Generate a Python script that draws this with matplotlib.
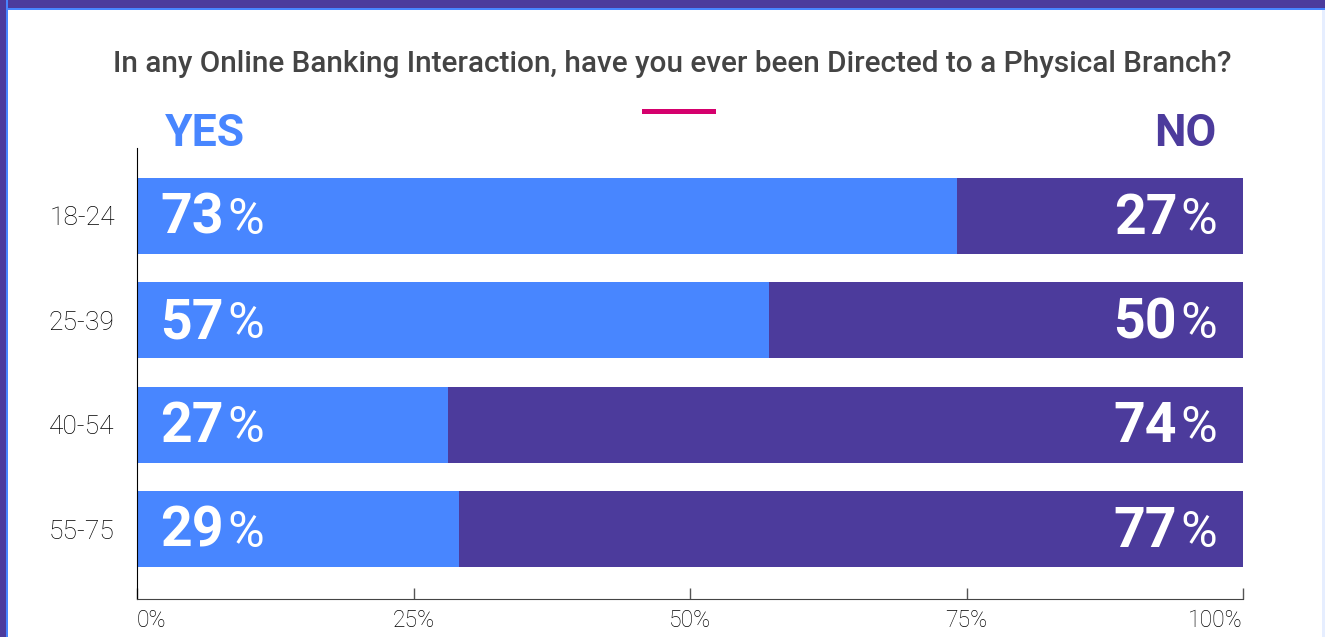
import matplotlib.pyplot as plt
from matplotlib.offsetbox import AnnotationBbox, HPacker, TextArea
from matplotlib.patches import Rectangle

# data
ages = ["18-24", "25-39", "40-54", "55-75"]
yes_labels = [73, 57, 27, 29]
no_labels = [27, 50, 74, 77]
yes_bar = [74.1, 57.1, 28.1, 29.1]  # drawn length of the blue bar (%)
x_ticks = [0, 25, 50, 75, 100]

title = "In any Online Banking Interaction, have you ever been Directed to a Physical Branch?"

BLUE = "#4886FF"
PURPLE = "#4C3B9C"
PINK = "#D5006D"

plt.rcParams["font.family"] = ["Roboto", "DejaVu Sans"]

W, H = 1325, 637
fig = plt.figure(figsize=(W / 100, H / 100), dpi=100)
ax = fig.add_axes([137 / W, 1 - 599 / H, 1106 / W, 451 / H])

y = list(range(len(ages)))
no_bar = [100 - v for v in yes_bar]
ax.barh(y, yes_bar, height=0.73, color=BLUE)
ax.barh(y, no_bar, left=yes_bar, height=0.73, color=PURPLE)
ax.set_xlim(0, 100)
ax.set_ylim(3.67, -0.65)

ax.set_xticks(x_ticks, [f"{t}%" for t in x_ticks], fontsize=16.5, fontweight="light")
xl = ax.get_xticklabels()
xl[0].set_ha("left")
xl[-1].set_ha("right")
ax.tick_params(axis="x", direction="in", length=8, width=1, color="#555555",
               pad=7, labelcolor="#000000")
ax.set_yticks(y, ages, fontsize=19, fontweight="light")
ax.tick_params(axis="y", length=0, pad=16, labelcolor="#000000")

for s in ("top", "right"):
    ax.spines[s].set_visible(False)
ax.spines["left"].set_color("black")
ax.spines["bottom"].set_color("#444444")


def pct_box(value):
    num = TextArea(str(value), textprops=dict(color="white", fontsize=40, fontweight="bold"))
    sign = TextArea("%", textprops=dict(color="white", fontsize=36, fontweight="normal"))
    return HPacker(children=[num, sign], align="baseline", pad=0, sep=2)


for i in y:
    ax.add_artist(AnnotationBbox(pct_box(yes_labels[i]), (0, i), xybox=(17, -2),
                                 boxcoords="offset points", box_alignment=(0, 0.5),
                                 frameon=False, pad=0))
    ax.add_artist(AnnotationBbox(pct_box(no_labels[i]), (100, i), xybox=(-19, -2),
                                 boxcoords="offset points", box_alignment=(1, 0.5),
                                 frameon=False, pad=0))

# headings
fig.text(0.507, 1 - 72 / H, title, ha="center", va="baseline", fontsize=21.4,
         fontweight="medium", color="#444444")
fig.text(165 / W, 1 - 146 / H, "YES", ha="left", va="baseline", fontsize=32,
         fontweight="bold", color=BLUE)
fig.text(1216 / W, 1 - 146 / H, "NO", ha="right", va="baseline", fontsize=32,
         fontweight="bold", color=PURPLE)
fig.add_artist(Rectangle((642 / W, 1 - 114 / H), 74 / W, 5 / H,
                         transform=fig.transFigure, color=PINK, lw=0))

# frame around the card
fig.add_artist(Rectangle((0, 1 - 10 / H), 1, 10 / H, transform=fig.transFigure, color=BLUE, lw=0))
fig.add_artist(Rectangle((0, 1 - 8 / H), 1, 8 / H, transform=fig.transFigure, color=PURPLE, lw=0))
fig.add_artist(Rectangle((0, 0), 8 / W, 1, transform=fig.transFigure, color=BLUE, lw=0))
fig.add_artist(Rectangle((0, 0), 6 / W, 1, transform=fig.transFigure, color=PURPLE, lw=0))
fig.add_artist(Rectangle((1 - 3 / W, 0), 3 / W, 1 - 10 / H, transform=fig.transFigure,
                         color="#E6EEFF", lw=0))

fig.savefig("out.png", dpi=100)
